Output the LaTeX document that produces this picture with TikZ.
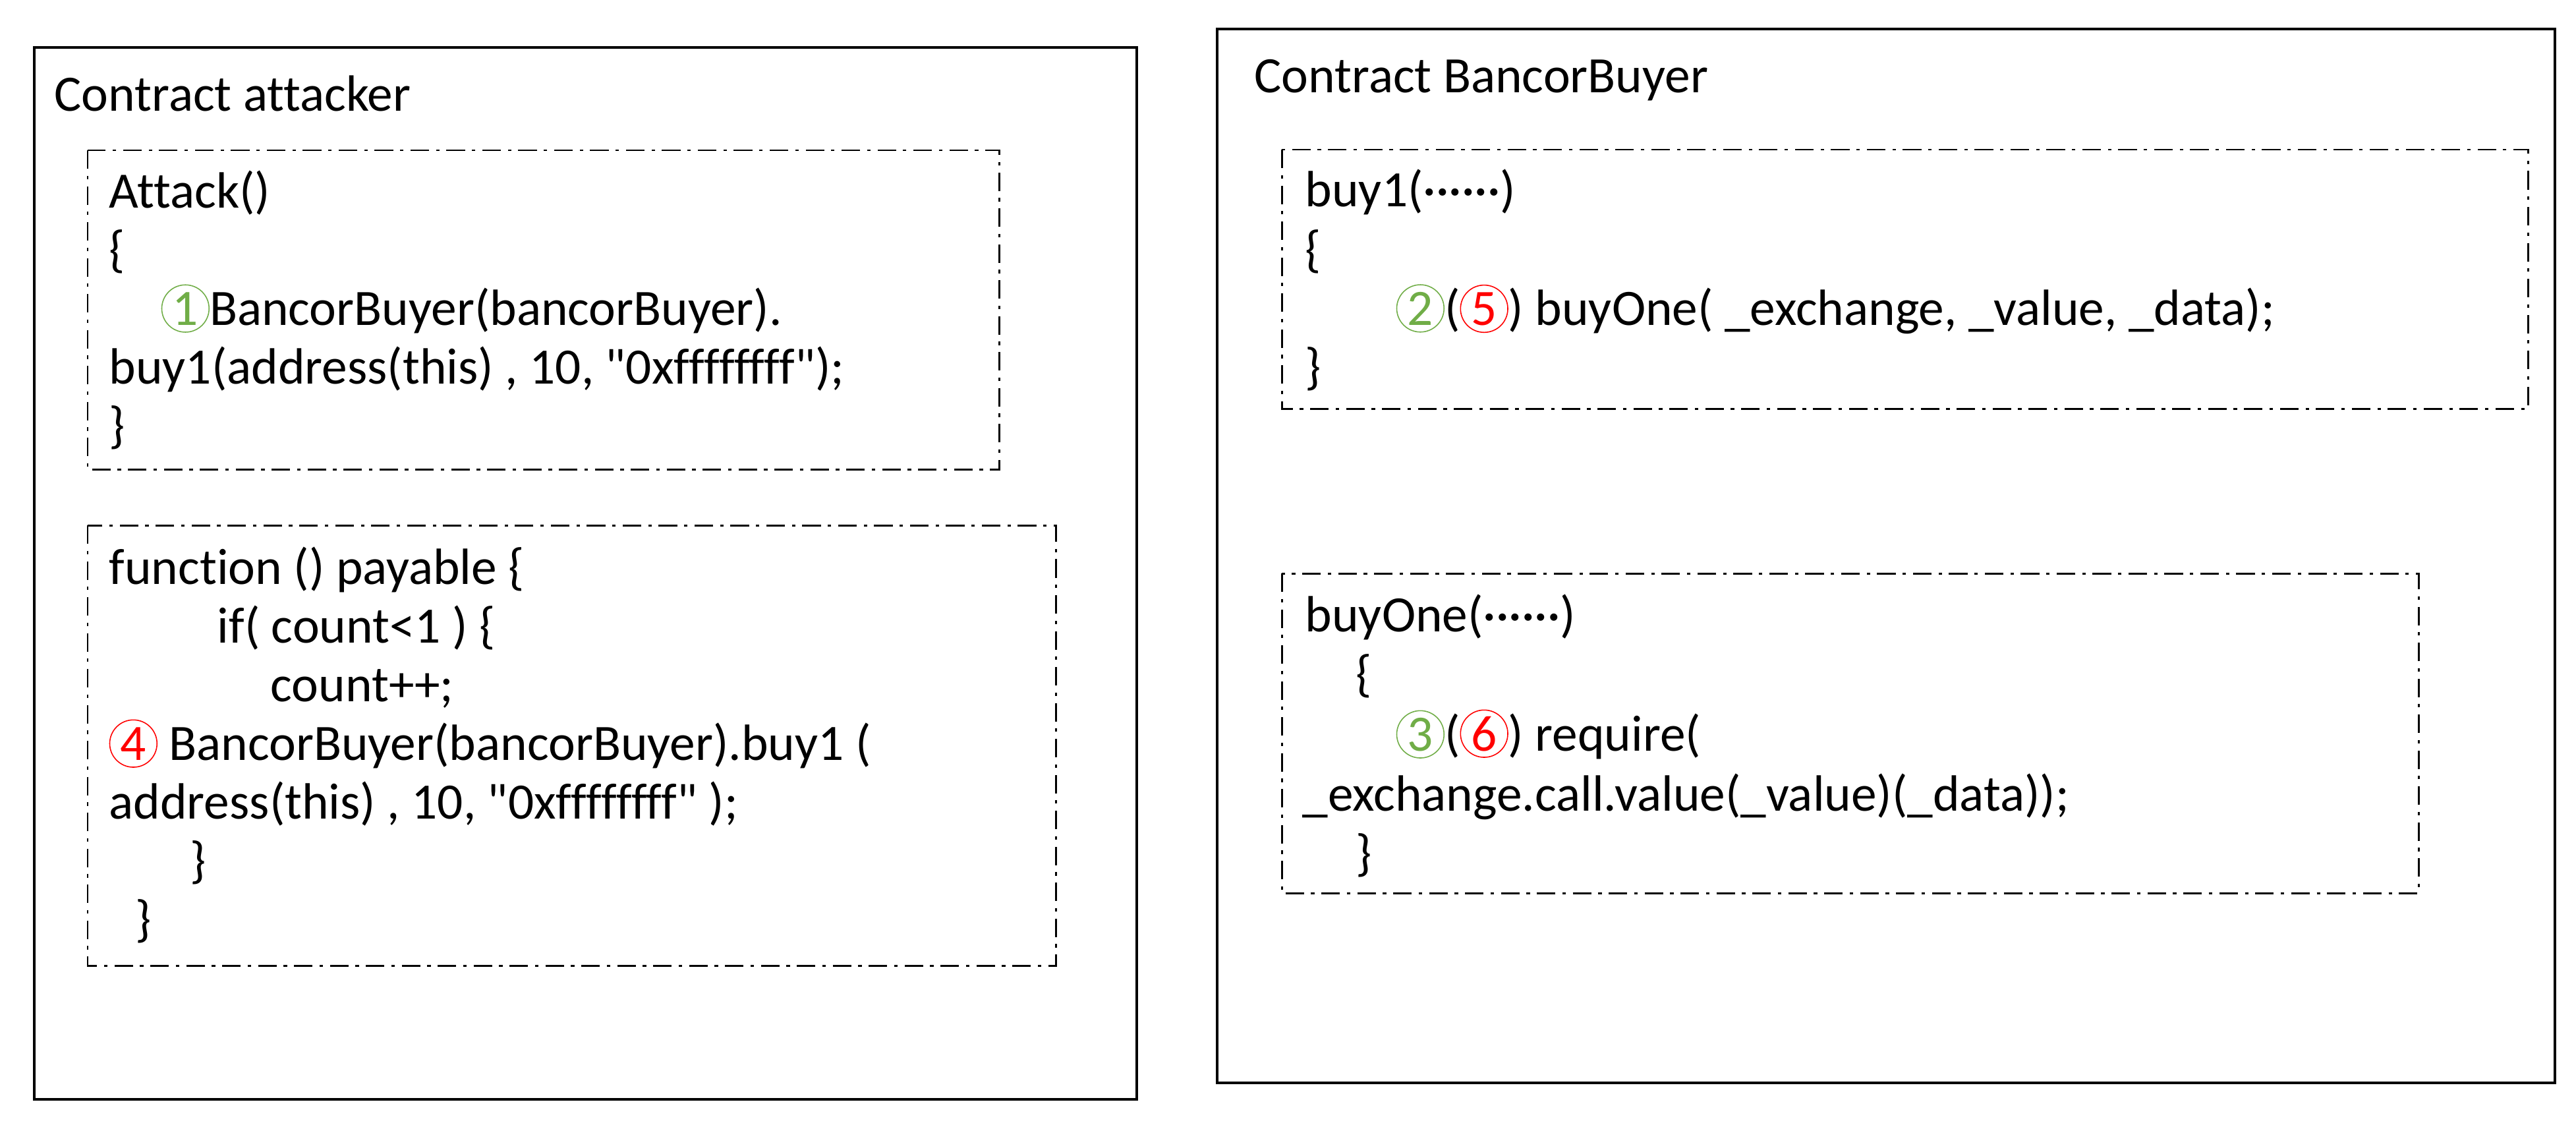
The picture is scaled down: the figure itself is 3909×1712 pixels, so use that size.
\documentclass[tikz,border=0pt]{standalone}
\usepackage{fontspec}
\setmainfont{Carlito}
\setmonofont{Carlito}[Ligatures=NoCommon]
\definecolor{cgreen}{HTML}{70AD47}
\definecolor{cred}{HTML}{FF0000}
\newcommand{\cnum}[2]{\tikz[baseline=(cn.base)]\node[circle, draw=#1, text=#1, line width=0.45pt, inner sep=0pt, minimum size=20.4pt, anchor=center] (cn) {#2};}
\begin{document}
\begin{tikzpicture}[x=0.01cm,y=-0.01cm,
  outerbox/.style={draw, line width=1.1pt},
  codebox/.style={draw, line width=0.85pt, dash pattern=on 8pt off 3pt on 1.5pt off 3pt},
  code/.style={anchor=base west, inner sep=0pt, font=\ttfamily\fontsize{22}{26}\selectfont}]
\useasboundingbox (0,0) rectangle (3909,1712);
% outer boxes
\draw[outerbox] (52,72) rectangle (1725,1668);
\draw[outerbox] (1847,44) rectangle (3877,1643);
% dashed code boxes
\draw[codebox] (133,228) rectangle (1516,712);
\draw[codebox] (133,797) rectangle (1602,1465);
\draw[codebox] (1945,227) rectangle (3836,620);
\draw[codebox] (1945,870) rectangle (3670,1355);
% titles
\node[code] (t1) at (82,168) {Contract attacker};
\node[code] (t2) at (1903,140) {Contract BancorBuyer};
% box 1
\node[code] (a1) at (165,315) {Attack()};
\node[code] (a2) at (165,404) {\{};
\node[code] (a3) at (244,493) {\cnum{cgreen}{1}BancorBuyer(bancorBuyer).};
\node[code] (a4) at (165,582) {buy1(address(this) , 10, "0xffffffff");};
\node[code] (a5) at (165,671) {\}};
% box 2
\node[code] (f1) at (165,886) {function () payable \{};
\node[code] (f2) at (329,975) {if( count<1 ) \{};
\node[code] (f3) at (410,1064) {count++;};
\node[code] (f4) at (165,1153) {\cnum{cred}{4} BancorBuyer(bancorBuyer).buy1 (};
\node[code] (f5) at (165,1242) {address(this) , 10, "0xffffffff" );};
\node[code] (f6) at (288,1331) {\}};
\node[code] (f7) at (205,1420) {\}};
% box 3
\node[code] (b1) at (1980,313) {buy1(······)};
\node[code] (b2) at (1980,404) {\{};
\node[code] (b3) at (2118,493) {\cnum{cgreen}{2}(\cnum{cred}{5}) buyOne( \_exchange, \_value, \_data);};
\node[code] (b4) at (1980,582) {\}};
% box 4
\node[code] (c1) at (1980,958) {buyOne(······)};
\node[code] (c2) at (2057,1048) {\{};
\node[code] (c3) at (2118,1139) {\cnum{cgreen}{3}(\cnum{cred}{6}) require(};
\node[code] (c4) at (1976,1230) {\_exchange.call.value(\_value)(\_data));};
\node[code] (c5) at (2057,1320) {\}};
\end{tikzpicture}
\end{document}
